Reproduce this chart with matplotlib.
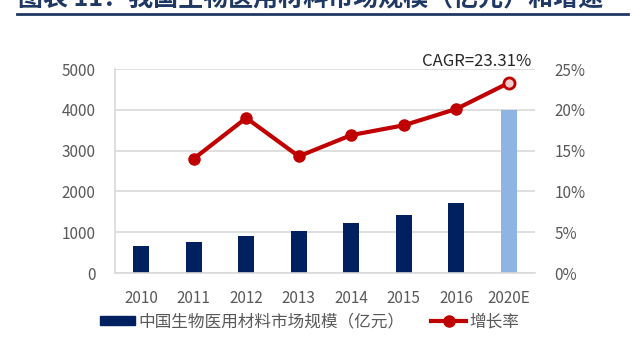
import matplotlib
matplotlib.use("Agg")
import matplotlib.pyplot as plt
from matplotlib.patches import Rectangle
from matplotlib.lines import Line2D

plt.rcParams['font.family'] = ['Noto Sans CJK SC', 'DejaVu Sans']

categories = ['2010', '2011', '2012', '2013', '2014', '2015', '2016', '2020E']
market_size = [650, 750, 910, 1030, 1220, 1430, 1710, 4000]
growth_years = ['2011', '2012', '2013', '2014', '2015', '2016', '2020E']
growth_rate = [14.0, 19.0, 14.3, 16.9, 18.1, 20.1, 23.3]
left_ticks = [0, 1000, 2000, 3000, 4000, 5000]
right_ticks = [0, 5, 10, 15, 20, 25]

title = '图表 11：我国生物医用材料市场规模（亿元）和增速'
bar_label = '中国生物医用材料市场规模（亿元）'
line_label = '增长率'
cagr_text = 'CAGR=23.31%'

navy = '#002060'
light_blue = '#8EB4E3'
red = '#C00000'
gray_text = '#595959'
grid_c = '#D9D9D9'

fig = plt.figure(figsize=(6.4, 3.45), dpi=100)
ax = fig.add_axes([115/640, 1-273/345, 420/640, 204/345])

x = list(range(len(categories)))
colors = [navy]*(len(categories)-1) + [light_blue]
ax.bar(x, market_size, width=0.31, color=colors, zorder=2)
ax.set_xlim(-0.5, len(categories)-0.5)
ax.set_ylim(0, 5000)
ax.set_yticks(left_ticks)
ax.set_yticklabels([str(v) for v in left_ticks])
ax.set_xticks(x)
ax.set_xticklabels(categories)
ax.grid(axis='y', color=grid_c, linewidth=1.2, zorder=0)
ax.set_axisbelow(True)
for s in ['top', 'right']:
    ax.spines[s].set_visible(False)
ax.spines['left'].set_color(grid_c)
ax.spines['bottom'].set_color(grid_c)
ax.spines['left'].set_linewidth(1.2)
ax.spines['bottom'].set_linewidth(1.2)
ax.tick_params(axis='both', length=0, labelsize=11, labelcolor=gray_text)
ax.tick_params(axis='y', pad=14)
ax.tick_params(axis='x', pad=12)

ax2 = ax.twinx()
gx = [categories.index(c) for c in growth_years]
ax2.plot(gx, growth_rate, color=red, linewidth=3, marker='o', markersize=8,
         markerfacecolor=red, markeredgecolor=red, zorder=3)
ax2.plot(gx[-1:], growth_rate[-1:], linestyle='none', marker='o', markersize=8,
         markerfacecolor='#F4CCCC', markeredgecolor=red, markeredgewidth=2, zorder=4)
ax2.set_ylim(0, 25)
ax2.set_yticks(right_ticks)
ax2.set_yticklabels([f'{v}%' for v in right_ticks])
for s in ax2.spines.values():
    s.set_visible(False)
ax2.tick_params(axis='y', length=0, labelsize=11, labelcolor=gray_text, pad=14)

ax2.text(gx[-1] + 0.43, 25.4, cagr_text, ha='right', va='baseline', fontsize=12, color='#262626')

# title (clipped at top, as in the source image) and rule
fig.text(18/640, 1-6/345, title, ha='left', va='baseline', fontsize=18, fontweight='bold', color='#1F3864')
fig.add_artist(Line2D([17/640, 628/640], [1-13.5/345, 1-13.5/345], color='#1F3864', linewidth=2))

handles = [Rectangle((0, 0), 1, 1, color=navy),
           Line2D([0], [0], color=red, linewidth=3, marker='o', markersize=8)]
fig.legend(handles, [bar_label, line_label], loc='center', bbox_to_anchor=(310/640, 1-322/345),
           ncol=2, frameon=False, fontsize=12, handlelength=2.1, handleheight=0.4,
           handletextpad=0.2, columnspacing=1.6, labelcolor=gray_text)

fig.savefig('out.png', dpi=100)
